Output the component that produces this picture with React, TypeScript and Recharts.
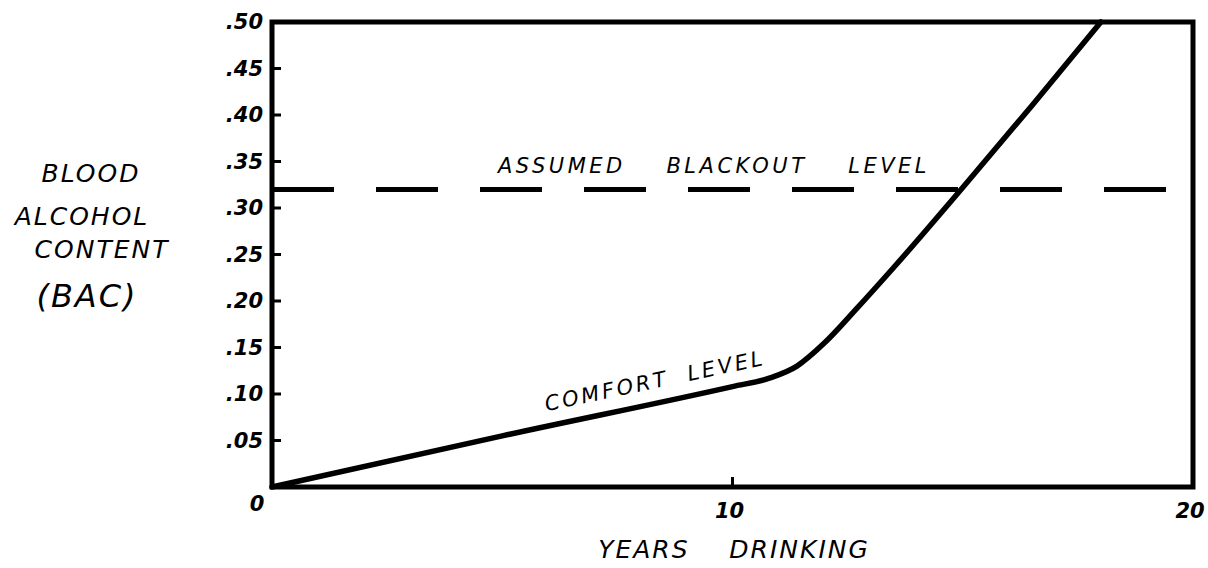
import React from 'react';
import { LineChart, Line, XAxis, YAxis, ReferenceLine, ReferenceArea } from 'recharts';

const years = [0, 5, 10, 10.8, 11.4, 12.0, 12.7, 13.5, 15.0, 16.5, 18.0];
const bac = [0, 0.055, 0.108, 0.117, 0.13, 0.155, 0.192, 0.236, 0.322, 0.41, 0.5];
const yTicks = [0, 0.05, 0.1, 0.15, 0.2, 0.25, 0.3, 0.35, 0.4, 0.45, 0.5];
const yTickLabels = ['0', '.05', '.10', '.15', '.20', '.25', '.30', '.35', '.40', '.45', '.50'];
const xTicks = [10, 20];
const xTickLabels = ['10', '20'];
const blackoutLevel = 0.32;
const blackoutLabel = 'ASSUMED    BLACKOUT    LEVEL';
const comfortLabel = 'COMFORT  LEVEL';
const yTitleLines = ['BLOOD', 'ALCOHOL', 'CONTENT', '(BAC)'];
const xTitle = 'YEARS    DRINKING';

const data = years.map((y, i) => ({ year: y, bac: bac[i] }));

const FONT = '"DejaVu Sans", sans-serif';

const YTick = (props: any) => {
  const { x, y, payload, index } = props;
  const label = yTickLabels[index];
  if (payload.value === 0) {
    return (
      <text x={x - 15} y={y + 17} textAnchor="middle" dominantBaseline="central"
        fontFamily={FONT} fontWeight="bold" fontStyle="italic" fontSize={21} fill="#000">{label}</text>
    );
  }
  return (
    <g>
      <line x1={x} x2={x + 9} y1={y} y2={y} stroke="#000" strokeWidth={3} />
      <text x={x - 9} y={y} textAnchor="end" dominantBaseline="central"
        fontFamily={FONT} fontWeight="bold" fontStyle="italic" fontSize={21} fill="#000">{label}</text>
    </g>
  );
};

const XTick = (props: any) => {
  const { x, y, index, payload } = props;
  const label = xTickLabels[index];
  return (
    <g>
      {payload.value === 10 && <line x1={x} x2={x} y1={y} y2={y - 10} stroke="#000" strokeWidth={3} />}
      <text x={x - 3} y={y + 24} textAnchor="middle" dominantBaseline="central"
        fontFamily={FONT} fontWeight="bold" fontStyle="italic" fontSize={21} fill="#000">{label}</text>
    </g>
  );
};

const BlackoutLabel = (props: any) => {
  const vb = props.viewBox || {};
  return (
    <text x={vb.x + 442} y={vb.y - 23} textAnchor="middle" dominantBaseline="central"
      fontFamily={FONT} fontStyle="italic" fontSize={21} letterSpacing={3.5} fill="#000"
      style={{ whiteSpace: 'pre' }}>{blackoutLabel}</text>
  );
};

export default function App() {
  return (
    <div style={{ position: 'absolute', left: 0, top: 0, width: 1208, height: 568, background: '#fff' }}>
      <LineChart width={1208} height={568} data={data} margin={{ top: 22, right: 15, bottom: 0, left: 0 }}>
        <XAxis dataKey="year" type="number" domain={[0, 20]} ticks={xTicks} height={81}
          axisLine={false} tickLine={false} tickSize={0} tickMargin={0} tick={<XTick />} interval={0} />
        <YAxis type="number" domain={[0, 0.5]} ticks={yTicks} width={272}
          axisLine={false} tickLine={false} tickSize={0} tickMargin={0} tick={<YTick />} interval={0} />
        <ReferenceArea x1={0} x2={20} y1={0} y2={0.5} fill="none" fillOpacity={0}
          stroke="#000" strokeWidth={5} ifOverflow="visible" />
        <ReferenceLine y={blackoutLevel} stroke="#000" strokeWidth={5} strokeDasharray="62 42"
          label={<BlackoutLabel />} ifOverflow="visible" />
        <Line type="monotone" dataKey="bac" stroke="#000" strokeWidth={5.5} dot={false}
          isAnimationActive={false} strokeLinecap="round" />
        <text x={655} y={381} textAnchor="middle" dominantBaseline="central" transform="rotate(-12 655 381)"
          fontFamily={FONT} fontStyle="italic" fontSize={21} letterSpacing={3} fill="#000"
          style={{ whiteSpace: 'pre' }}>{comfortLabel}</text>
        {yTitleLines.map((t, i) => (
          <text key={t} x={[91, 82, 102, 87][i]} y={[173, 216, 249, 296][i]} textAnchor="middle"
            dominantBaseline="central" fontFamily={FONT} fontStyle="italic"
            fontSize={i === 3 ? 32 : 25} letterSpacing={2} fill="#000">{t}</text>
        ))}
        <text x={734} y={549} textAnchor="middle" dominantBaseline="central" fontFamily={FONT}
          fontStyle="italic" fontSize={25} letterSpacing={2} fill="#000"
          style={{ whiteSpace: 'pre' }}>{xTitle}</text>
      </LineChart>
    </div>
  );
}
